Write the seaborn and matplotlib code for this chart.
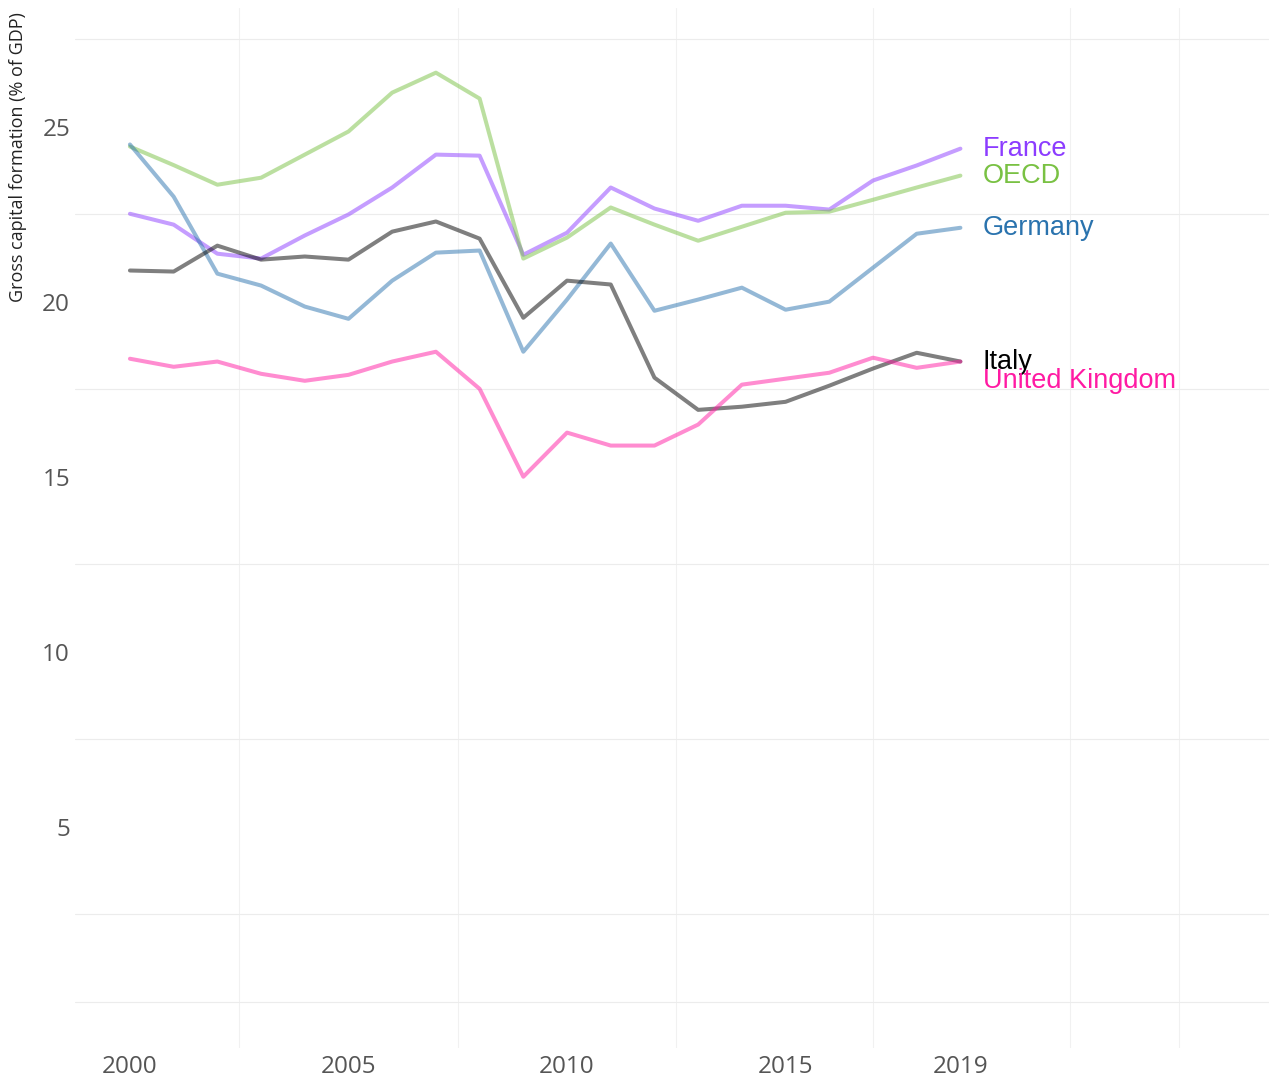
import pandas as pd
import matplotlib.pyplot as plt
import seaborn as sns

# ---- data ----
years = list(range(2000, 2020))
countries = ['France', 'OECD', 'Germany', 'Italy', 'United Kingdom']

france = [22.51, 22.20, 21.37, 21.23, 21.89, 22.49, 23.26, 24.20, 24.17, 21.34,
          21.97, 23.26, 22.66, 22.31, 22.74, 22.74, 22.63, 23.46, 23.89, 24.37]
oecd = [24.43, 23.90, 23.34, 23.54, 24.20, 24.86, 25.97, 26.54, 25.80, 21.23,
        21.83, 22.69, 22.20, 21.74, 22.14, 22.54, 22.57, 22.91, 23.26, 23.60]
germany = [24.49, 23.00, 20.80, 20.46, 19.86, 19.51, 20.60, 21.40, 21.46, 18.57,
           20.06, 21.66, 19.74, 20.06, 20.40, 19.77, 20.00, 20.97, 21.94, 22.11]
italy = [20.89, 20.86, 21.60, 21.20, 21.29, 21.20, 22.00, 22.29, 21.80, 19.54,
         20.60, 20.49, 17.83, 16.91, 17.00, 17.14, 17.60, 18.09, 18.54, 18.29]
uk = [18.37, 18.14, 18.29, 17.94, 17.74, 17.91, 18.29, 18.57, 17.51, 15.00,
      16.26, 15.89, 15.89, 16.49, 17.63, 17.80, 17.97, 18.40, 18.11, 18.29]

x_ticks = [2000, 2005, 2010, 2015, 2019]
x_grid = [2000, 2002.5, 2005, 2007.5, 2010, 2012.5, 2015, 2017, 2019, 2021.5, 2024]
y_ticks = [5, 10, 15, 20, 25]
y_grid = [0, 2.5, 5, 7.5, 10, 12.5, 15, 17.5, 20, 22.5, 25, 27.5]

colors = {'France': '#8c3cff', 'OECD': '#79c143', 'Germany': '#2a73ae',
          'Italy': '#000000', 'United Kingdom': '#ff1aa3'}

series = [france, oecd, germany, italy, uk]
df = pd.DataFrame({
    'year': years * len(countries),
    'value': [v for s in series for v in s],
    'country': [c for c in countries for _ in years],
})

sns.set_theme(style="white")
plt.rcParams['font.family'] = ['Open Sans', 'DejaVu Sans']

fig = plt.figure(figsize=(12.69, 10.78), dpi=100)
ax = fig.add_axes([0.059, 0.028, 0.941, 0.965])

sns.lineplot(data=df, x='year', y='value', hue='country', palette=colors,
             hue_order=countries, linewidth=2.9, alpha=0.5, legend=False, ax=ax)

# labels at the end of each line
label_dy = {'Italy': 0, 'United Kingdom': -14}
for c, s in zip(countries, series):
    ax.annotate(c, xy=(years[-1], s[-1]), xytext=(16, label_dy.get(c, 0)),
                textcoords='offset points', va='center', ha='left',
                color=colors[c], fontsize=19.5, family='Liberation Sans')

ax.set_xlim(1998.74, 2026.06)
ax.set_ylim(-1.31, 28.4)
ax.set_xticks(x_ticks)
ax.set_xticks(x_grid, minor=True)
ax.set_yticks(y_ticks)
ax.set_yticks(y_grid, minor=True)
ax.set_xticklabels([str(t) for t in x_ticks])
ax.grid(False)
ax.grid(True, which='minor', axis='y', color='#ececec', linewidth=0.8)
ax.grid(True, which='minor', axis='x', color='#f1f1f1', linewidth=0.8)
ax.tick_params(which='both', length=0, labelsize=17.5, labelcolor='#555555')
ax.tick_params(axis='x', pad=5)
for sp in ax.spines.values():
    sp.set_visible(False)
ax.set_axisbelow(True)

ax.set_xlabel('')
ax.set_ylabel('Gross capital formation (% of GDP)', fontsize=13, color='#222222')
ax.yaxis.set_label_coords(-0.040, 0.856)

fig.savefig('out.png', dpi=100)
